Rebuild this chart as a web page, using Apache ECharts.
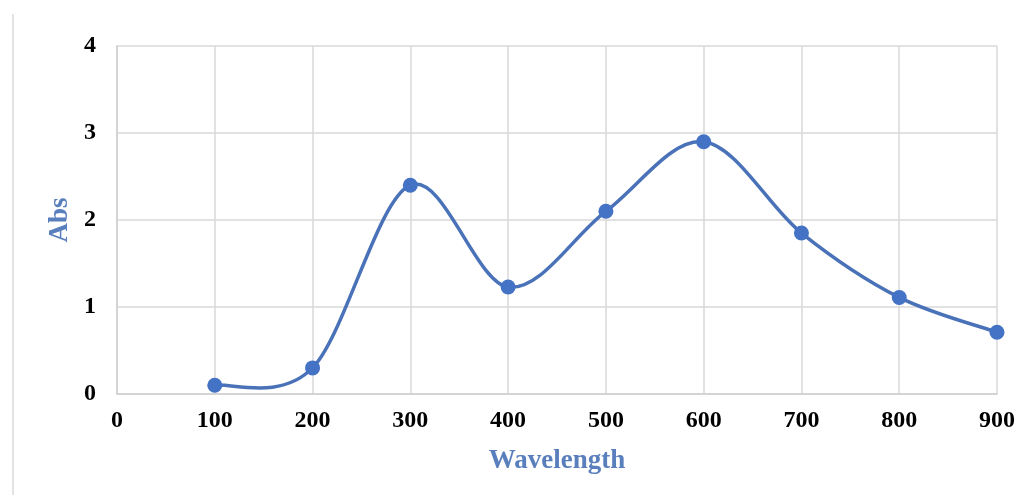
<!DOCTYPE html>
<html><head><meta charset="utf-8">
<script src="https://cdn.jsdelivr.net/npm/echarts@6/dist/echarts.min.js"></script>
<style>html,body{margin:0;padding:0;background:#fff}#c{width:1028px;height:495px}
#bar{position:absolute;left:12px;top:14px;width:2px;height:481px;background:#e3e3e3}</style>
</head><body><div id="bar"></div><div id="c"></div>
<script>
const wavelengths = [100, 200, 300, 400, 500, 600, 700, 800, 900];
const absValues = [0.10, 0.30, 2.40, 1.23, 2.10, 2.90, 1.85, 1.11, 0.71];
const xTitle = 'Wavelength';
const yTitle = 'Abs';

const chart = echarts.init(document.getElementById('c'));
const font = '"Liberation Serif", "Times New Roman", serif';
const pointData = wavelengths.map((w, i) => [w, absValues[i]]);

// Excel-style smoothed line (Catmull-Rom as cubic Bezier), positioned via the axes' scales
function renderCurve(params, api) {
  if (params.dataIndex !== 0) return null;
  const p = pointData.map(d => api.coord(d));
  const n = p.length;
  let d = 'M' + p[0][0] + ' ' + p[0][1];
  for (let i = 0; i < n - 1; i++) {
    const p0 = p[Math.max(i - 1, 0)], p1 = p[i], p2 = p[i + 1], p3 = p[Math.min(i + 2, n - 1)];
    const c1x = p1[0] + (p2[0] - p0[0]) / 6, c1y = p1[1] + (p2[1] - p0[1]) / 6;
    const c2x = p2[0] - (p3[0] - p1[0]) / 6, c2y = p2[1] - (p3[1] - p1[1]) / 6;
    d += ' C' + c1x + ' ' + c1y + ' ' + c2x + ' ' + c2y + ' ' + p2[0] + ' ' + p2[1];
  }
  return {type: 'path', shape: {pathData: d},
    style: {fill: null, stroke: '#4a72b8', lineWidth: 3.5, lineJoin: 'round', lineCap: 'round'}};
}

chart.setOption({
  animation: false,
  grid: {left: 117, right: 31, top: 46, bottom: 101},
  xAxis: {
    type: 'value', min: 0, max: 900, interval: 100,
    name: xTitle, nameLocation: 'middle', nameGap: 54,
    nameTextStyle: {color: '#5a7fbd', fontFamily: font, fontWeight: 'bold', fontSize: 27},
    axisLine: {show: true, lineStyle: {color: '#cfcfcf', width: 1.5}},
    axisTick: {show: false},
    axisLabel: {color: '#000', fontFamily: font, fontWeight: 'bold', fontSize: 24, margin: 15},
    splitLine: {show: true, lineStyle: {color: '#d9d9d9', width: 1.5}}
  },
  yAxis: {
    type: 'value', min: 0, max: 4, interval: 1,
    name: yTitle, nameLocation: 'middle', nameGap: 41, nameRotate: 90,
    nameTextStyle: {color: '#5a7fbd', fontFamily: font, fontWeight: 'bold', fontSize: 27},
    axisLine: {show: true, lineStyle: {color: '#cfcfcf', width: 1.5}},
    axisTick: {show: false},
    axisLabel: {color: '#000', fontFamily: font, fontWeight: 'bold', fontSize: 24, margin: 21},
    splitLine: {show: true, lineStyle: {color: '#d9d9d9', width: 1.5}}
  },
  series: [{
    type: 'custom',
    renderItem: renderCurve,
    data: pointData,
    clip: false,
    z: 2
  }, {
    type: 'line',
    data: pointData,
    symbol: 'circle', symbolSize: 15,
    lineStyle: {opacity: 0},
    itemStyle: {color: '#4472c4'},
    z: 3
  }]
});
</script></body></html>
